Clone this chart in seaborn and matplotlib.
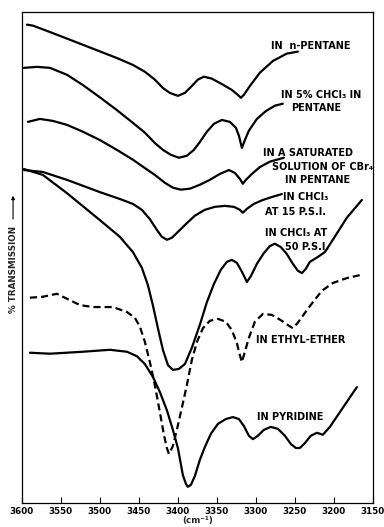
import matplotlib
matplotlib.use("Agg")
import matplotlib.pyplot as plt
import matplotlib.patches as mpatches
import pandas as pd
import seaborn as sns

# Infrared O-H / N-H stretching region, one trace per solvent.
# Wavenumbers in cm^-1, transmission in arbitrary offset percent units.
pentane_wn = [3593.6, 3585.9, 3564.1, 3521.8, 3478.2, 3457.7, 3442.3, 3429.5, 3419.2, 3410.3,
              3400.0, 3391.0, 3382.1, 3374.4, 3366.7, 3356.4, 3343.6, 3330.8, 3323.1, 3319.2,
              3315.4, 3307.7, 3294.9, 3278.2, 3260.3, 3246.2]
pentane_t = [97.4, 97.2, 95.9, 93.3, 90.6, 89.2, 87.8, 86.2, 84.5, 83.5,
             82.9, 83.5, 84.9, 86.2, 86.8, 86.4, 85.3, 84.1, 83.1, 82.5,
             83.1, 84.9, 87.6, 90.0, 91.5, 91.9]

chcl3_5pct_wn = [3597.4, 3580.8, 3564.1, 3542.3, 3521.8, 3500.0, 3478.2, 3457.7, 3442.3, 3429.5,
                 3419.2, 3409.0, 3398.7, 3388.5, 3379.5, 3371.8, 3362.8, 3353.8, 3343.6, 3333.3,
                 3325.6, 3321.8, 3317.9, 3314.1, 3309.0, 3298.7, 3287.2, 3275.6, 3265.4]
chcl3_5pct_t = [88.6, 88.8, 88.6, 87.2, 85.1, 82.6, 80.0, 77.4, 75.4, 73.3,
                71.9, 70.9, 70.3, 70.7, 71.9, 73.5, 75.6, 77.2, 78.0, 77.6,
                76.4, 74.8, 72.3, 73.9, 75.8, 78.2, 79.8, 80.9, 81.3]

cbr4_wn = [3592.3, 3576.9, 3560.3, 3542.3, 3521.8, 3500.0, 3478.2, 3457.7, 3442.3, 3429.5,
           3416.7, 3406.4, 3396.2, 3384.6, 3371.8, 3359.0, 3346.2, 3334.6, 3326.9, 3320.5,
           3316.7, 3312.8, 3305.1, 3294.9, 3282.1, 3264.1]
cbr4_t = [77.6, 78.2, 77.8, 77.0, 75.6, 73.9, 71.9, 69.9, 68.2, 66.8,
          65.2, 64.2, 63.8, 64.0, 64.8, 65.8, 67.0, 67.8, 67.2, 66.0,
          65.0, 65.8, 67.0, 68.4, 69.5, 70.3]

chcl3_15psi_wn = [3597.4, 3573.1, 3542.3, 3500.0, 3474.4, 3457.7, 3446.2, 3435.9, 3426.9, 3420.5,
                  3414.1, 3407.7, 3400.0, 3389.7, 3378.2, 3365.4, 3352.6, 3339.7, 3328.2, 3320.5,
                  3316.7, 3311.5, 3302.6, 3291.0, 3279.5, 3266.7]
chcl3_15psi_t = [67.8, 67.4, 65.8, 63.3, 61.9, 60.9, 59.7, 57.8, 55.6, 54.2,
                 53.6, 54.0, 55.2, 56.8, 58.5, 59.7, 60.3, 60.5, 60.3, 59.7,
                 59.1, 59.9, 60.9, 61.7, 62.3, 62.9]

chcl3_50psi_wn = [3597.4, 3573.1, 3542.3, 3500.0, 3474.4, 3457.7, 3446.2, 3438.5, 3432.1, 3425.6,
                  3419.2, 3412.8, 3406.4, 3398.7, 3391.0, 3382.1, 3371.8, 3362.8, 3353.8, 3344.9,
                  3337.2, 3330.8, 3324.4, 3317.9, 3311.5, 3306.4, 3298.7, 3289.7, 3282.1, 3275.6,
                  3267.9, 3260.3, 3252.6, 3246.2, 3241.0, 3235.9, 3230.8, 3220.5, 3211.5, 3201.3,
                  3183.3, 3164.1]
chcl3_50psi_t = [68.0, 66.8, 63.1, 57.6, 54.2, 51.1, 47.9, 44.4, 40.3, 35.6,
                 31.2, 28.1, 27.1, 27.3, 28.3, 31.6, 36.3, 40.9, 44.6, 47.5,
                 49.1, 49.5, 48.9, 47.1, 45.0, 46.2, 48.7, 50.9, 52.3, 52.8,
                 52.1, 50.7, 48.7, 47.3, 46.8, 47.7, 49.1, 50.1, 51.1, 53.6,
                 58.1, 61.7]

ether_wn = [3589.7, 3573.1, 3555.1, 3538.5, 3525.6, 3509.0, 3483.3, 3465.4, 3455.1, 3448.7,
            3442.3, 3435.9, 3429.5, 3423.1, 3417.9, 3414.1, 3411.5, 3406.4, 3401.3, 3394.9,
            3388.5, 3382.1, 3375.6, 3367.9, 3359.0, 3348.7, 3338.5, 3330.8, 3324.4, 3320.5,
            3317.9, 3314.1, 3309.0, 3301.3, 3291.0, 3279.5, 3266.7, 3257.7, 3252.6, 3246.2,
            3237.2, 3226.9, 3215.4, 3201.3, 3183.3, 3166.7]
ether_t = [41.8, 42.0, 42.6, 41.3, 40.3, 39.9, 39.9, 38.9, 37.7, 35.9,
           32.8, 28.7, 24.0, 18.5, 13.9, 11.2, 10.0, 11.6, 14.9, 19.4,
           24.0, 29.1, 32.8, 35.6, 37.1, 37.5, 36.9, 35.2, 32.6, 30.1,
           28.7, 30.8, 33.6, 36.9, 38.5, 38.3, 37.1, 36.1, 35.6, 36.7,
           38.7, 40.9, 43.2, 44.8, 45.8, 46.4]

pyridine_wn = [3589.7, 3564.1, 3521.8, 3487.2, 3465.4, 3452.6, 3442.3, 3432.1, 3423.1, 3414.1,
               3406.4, 3400.0, 3393.6, 3389.7, 3387.2, 3383.3, 3378.2, 3371.8, 3365.4, 3357.7,
               3348.7, 3338.5, 3329.5, 3321.8, 3315.4, 3309.0, 3303.8, 3297.4, 3289.7, 3280.8,
               3271.8, 3262.8, 3255.1, 3248.7, 3243.6, 3237.2, 3229.5, 3221.8, 3214.1, 3205.1,
               3192.3, 3180.8, 3170.5]
pyridine_t = [30.6, 30.4, 30.8, 31.2, 30.8, 29.9, 28.3, 25.7, 22.6, 18.9,
              14.9, 11.2, 5.7, 3.9, 3.3, 3.7, 5.5, 8.8, 11.4, 14.1,
              16.1, 17.1, 17.5, 17.1, 15.7, 13.7, 13.0, 13.7, 14.9, 15.5,
              15.1, 13.7, 12.0, 11.2, 11.2, 12.2, 13.7, 14.3, 13.9, 15.5,
              18.5, 21.2, 23.6]

x_ticks = [3600, 3550, 3500, 3450, 3400, 3350, 3300, 3250, 3200, 3150]

traces = [
    (pentane_wn, pentane_t, "-"),
    (chcl3_5pct_wn, chcl3_5pct_t, "-"),
    (cbr4_wn, cbr4_t, "-"),
    (chcl3_15psi_wn, chcl3_15psi_t, "-"),
    (chcl3_50psi_wn, chcl3_50psi_t, "-"),
    (ether_wn, ether_t, (0, (3.2, 1.8))),
    (pyridine_wn, pyridine_t, "-"),
]

sns.set_theme(style="white")
plt.rcParams["font.family"] = ["DejaVu Sans"]

fig = plt.figure(figsize=(3.84, 5.27), dpi=100)
ax = fig.add_axes([0.057, 0.0455, 0.914, 0.932])

for wn, t, ls in traces:
    df = pd.DataFrame({"wavenumber": wn, "transmission": t})
    sns.lineplot(data=df, x="wavenumber", y="transmission", ax=ax, color="black",
                 linewidth=1.6, linestyle=ls, estimator=None, sort=False,
                 solid_joinstyle="round", solid_capstyle="round")

label_kw = dict(fontsize=7, fontweight="bold", color="black", ha="left", va="center")
ax.text(3280.8, 93.1, "IN  n-PENTANE", **label_kw)
ax.text(3267.9, 83.1, "IN 5% CHCl₃ IN", **label_kw)
ax.text(3255.1, 80.4, "PENTANE", **label_kw)
ax.text(3291.0, 71.3, "IN A SATURATED", **label_kw)
ax.text(3279.5, 68.4, "SOLUTION OF CBr₄", **label_kw)
ax.text(3262.8, 65.8, "IN PENTANE", **label_kw)
ax.text(3265.4, 62.3, "IN CHCl₃", **label_kw)
ax.text(3288.5, 59.3, "AT 15 P.S.I.", **label_kw)
ax.text(3288.5, 55.0, "IN CHCl₃ AT", **label_kw)
ax.text(3262.8, 52.1, "50 P.S.I.", **label_kw)
ax.text(3300.0, 33.2, "IN ETHYL-ETHER", **label_kw)
ax.text(3298.7, 17.5, "IN PYRIDINE", **label_kw)

ax.set_xlim(3600, 3150)
ax.set_ylim(0, 100)
ax.set_xticks(x_ticks)
ax.set_xticklabels([str(v) for v in x_ticks], fontsize=6.3, fontweight="bold")
ax.set_yticks([])
ax.tick_params(axis="x", direction="in", length=4, width=0.8, pad=3, colors="black",
               bottom=True)
ax.set_xlabel("(cm⁻¹)", fontsize=6.3, fontweight="bold", labelpad=0)
ax.set_ylabel("")
for side in ["left", "right", "top", "bottom"]:
    ax.spines[side].set_visible(True)
    ax.spines[side].set_color("black")
    ax.spines[side].set_linewidth(0.9)

# rotated axis title with an upward arrow
fig.text(0.034, 0.488, "% TRANSMISSION", rotation=90, fontsize=6.3, fontweight="bold",
         ha="center", va="center")
fig.add_artist(mpatches.FancyArrowPatch(
    (0.034, 0.579), (0.034, 0.634), transform=fig.transFigure,
    arrowstyle="-|>", mutation_scale=5, linewidth=0.8, color="black"))

fig.savefig("out.png", dpi=100)
